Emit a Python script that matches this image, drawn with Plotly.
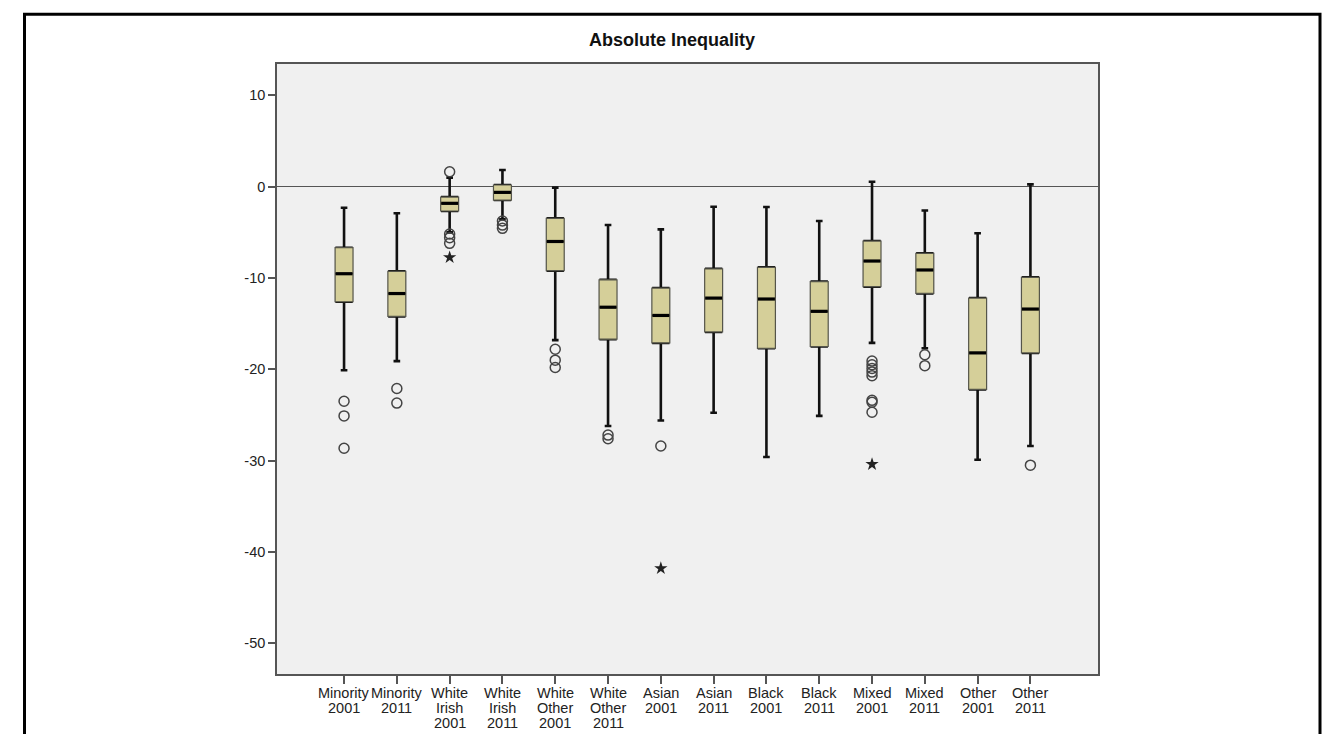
import plotly.graph_objects as go

categories = ["Minority<br>2001", "Minority<br>2011", "White<br>Irish<br>2001", "White<br>Irish<br>2011",
              "White<br>Other<br>2001", "White<br>Other<br>2011", "Asian<br>2001", "Asian<br>2011",
              "Black<br>2001", "Black<br>2011", "Mixed<br>2001", "Mixed<br>2011", "Other<br>2001", "Other<br>2011"]

upper_whisker = [-2.3, -2.9, 1.0, 1.83, -0.1, -4.2, -4.67, -2.19, -2.22, -3.76, 0.55, -2.6, -5.1, 0.26]
q3 = [-6.68, -9.27, -1.13, 0.19, -3.47, -10.2, -11.1, -9.0, -8.83, -10.4, -5.95, -7.3, -12.2, -9.93]
median = [-9.53, -11.7, -1.82, -0.62, -6.0, -13.2, -14.1, -12.2, -12.3, -13.65, -8.14, -9.12, -18.2, -13.4]
q1 = [-12.6, -14.2, -2.66, -1.46, -9.2, -16.7, -17.1, -15.9, -17.7, -17.5, -10.95, -11.68, -22.2, -18.2]
lower_whisker = [-20.1, -19.1, -5.0, -3.57, -16.8, -26.2, -25.6, -24.75, -29.6, -25.1, -17.1, -17.7, -29.9, -28.4]

outlier_cat = [0, 0, 0, 1, 1, 2, 2, 2, 2, 3, 3, 3, 4, 4, 4, 5, 5, 6,
               10, 10, 10, 10, 10, 10, 10, 10, 11, 11, 13]
outlier_val = [-23.5, -25.1, -28.65, -22.1, -23.7, 1.64, -5.18, -5.58, -6.2, -3.76, -4.2, -4.56,
               -17.8, -19.0, -19.8, -27.2, -27.6, -28.4,
               -19.1, -19.5, -19.9, -20.3, -20.7, -23.4, -23.6, -24.7, -18.4, -19.6, -30.5]

extreme_cat = [2, 6, 10]
extreme_val = [-7.74, -41.8, -30.4]

y_tickvals = [10, 0, -10, -20, -30, -40, -50]
y_ticktext = ["10", "0", "-10", "-20", "-30", "-40", "-50"]

positions = list(range(len(categories)))
box_w = 0.34
half = box_w / 2

fig = go.Figure()

# whiskers (thick, capped)
fig.add_trace(go.Box(
    x=positions, q1=q1, median=median, q3=q3,
    lowerfence=lower_whisker, upperfence=upper_whisker,
    width=0.28, whiskerwidth=0.45,
    fillcolor="#d5cf99", line=dict(color="#111111", width=2.6),
    boxpoints=False, hoverinfo="skip", showlegend=False))

# box bodies (thin outline)
fig.add_trace(go.Box(
    x=positions, q1=q1, median=median, q3=q3,
    lowerfence=q1, upperfence=q3,
    width=box_w, whiskerwidth=0,
    fillcolor="#d5cf99", line=dict(color="#55554a", width=1.2),
    boxpoints=False, hoverinfo="skip", showlegend=False))

# thick medians
mx, my = [], []
for p, m in zip(positions, median):
    mx += [p - half + 0.01, p + half - 0.01, None]
    my += [m, m, None]
fig.add_trace(go.Scatter(x=mx, y=my, mode="lines",
                         line=dict(color="#000000", width=3.2),
                         hoverinfo="skip", showlegend=False))

fig.add_trace(go.Scatter(x=outlier_cat, y=outlier_val, mode="markers",
                         marker=dict(symbol="circle-open", size=10, color="#444444",
                                     line=dict(width=1.5, color="#444444")),
                         showlegend=False))
fig.add_trace(go.Scatter(x=extreme_cat, y=extreme_val, mode="markers",
                         marker=dict(symbol="star", size=10, color="#222222",
                                     line=dict(width=0, color="#222222")),
                         showlegend=False))

# page body has an 8px margin; compensate so the page layout matches
OFF = 8
W, H = 1339 - OFF, 734 - OFF
L, T, B = 277 - OFF, 64 - OFF, 60
R = W - (1098 - OFF)
pw, ph = W - L - R, H - T - B

def px_x(v):
    return (v - OFF - L) / pw

def px_y(v):
    return (H - B - (v - OFF)) / ph

# x category labels, one annotation per line with tight SPSS-like spacing
annotations = []
for p, lab in zip(positions, categories):
    for j, line in enumerate(lab.split("<br>")):
        annotations.append(dict(x=p, xref="x", y=0, yref="paper", text=line,
                                showarrow=False, xanchor="center", yanchor="middle",
                                yshift=-(19 + 15 * j),
                                font=dict(size=14.5, color="#222222")))

fig.update_layout(
    width=W, height=H,
    margin=dict(l=L, r=R, t=T, b=B, autoexpand=False),
    paper_bgcolor="white", plot_bgcolor="#f0f0f0",
    boxmode="overlay",
    font=dict(family="Liberation Sans, Arial, sans-serif", size=14, color="#222222"),
    title=dict(text="<b>Absolute Inequality</b>", x=(672 - OFF) / W, xanchor="center",
               y=1 - (40 - OFF) / H, yanchor="middle",
               font=dict(family="Liberation Sans, Arial, sans-serif", size=18, color="#111111")),
    xaxis=dict(range=[-1.27, 14.28], tickmode="array", tickvals=positions, showticklabels=False,
               automargin=False,
               showgrid=False, zeroline=False, showline=True, mirror=True,
               linecolor="#555555", linewidth=1.6, ticks="outside", ticklen=8,
               tickwidth=1.5, tickcolor="#555555"),
    yaxis=dict(range=[-53.37, 13.44], tickmode="array", tickvals=y_tickvals, ticktext=y_ticktext,
               automargin=False,
               showgrid=False, zeroline=True, zerolinecolor="#555555", zerolinewidth=1.3,
               showline=True, mirror=True, linecolor="#555555", linewidth=1.6,
               ticks="outside", ticklen=7, tickwidth=1.5, tickcolor="#555555",
               tickfont=dict(size=14.5, color="#222222")),
    annotations=annotations,
    shapes=[dict(type="path", xref="paper", yref="paper",
                 path=f"M {px_x(24.5)},{px_y(745)} L {px_x(24.5)},{px_y(14.3)} "
                      f"L {px_x(1320)},{px_y(14.3)} L {px_x(1320)},{px_y(745)}",
                 line=dict(color="#000000", width=3))],
)

fig.write_html("out.html")
